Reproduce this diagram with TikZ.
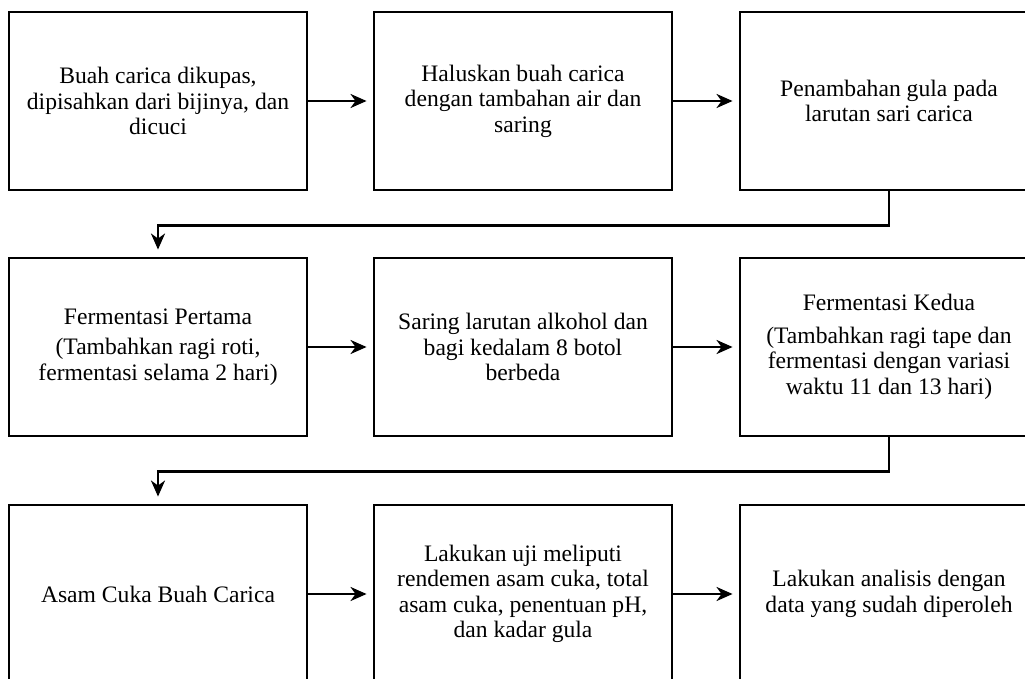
\documentclass[tikz,border=0pt]{standalone}
\usepackage{fontspec}
\setmainfont{Liberation Serif}
\usetikzlibrary{arrows.meta}
\begin{document}
\begin{tikzpicture}[x=1pt,y=-1pt,
  stepbox/.style={draw=black,line width=2.9pt,minimum width=298pt,minimum height=178pt,
    align=center,inner sep=0pt,font=\fontsize{23.6}{25.5}\selectfont},
  arr/.style={draw=black,line width=2.7pt,-{Stealth[length=16pt,width=14pt,inset=5pt]}}]
\clip (0,0) rectangle (1025,679);
\useasboundingbox (0,0) rectangle (1025,679);
\fill[white] (0,0) rectangle (1025,679);
% row 1
\node[stepbox] (a1) at (158,101) {Buah carica dikupas,\\dipisahkan dari bijinya, dan\\dicuci};
\node[stepbox] (a2) at (523,101) {Haluskan buah carica\\dengan tambahan air dan\\saring};
\node[stepbox] (a3) at (889,101) {Penambahan gula pada\\larutan sari carica};
% row 2
\node[stepbox] (b1) at (158,347) {Fermentasi Pertama\\[5pt](Tambahkan ragi roti,\\fermentasi selama 2 hari)};
\node[stepbox] (b2) at (523,347) {Saring larutan alkohol dan\\bagi kedalam 8 botol\\berbeda};
\node[stepbox] (b3) at (889,347) {Fermentasi Kedua\\[7pt](Tambahkan ragi tape dan\\fermentasi dengan variasi\\waktu 11 dan 13 hari)};
% row 3
\node[stepbox] (c1) at (158,594) {Asam Cuka Buah Carica};
\node[stepbox] (c2) at (523,594) {Lakukan uji meliputi\\rendemen asam cuka, total\\asam cuka, penentuan pH,\\dan kadar gula};
\node[stepbox] (c3) at (889,594) {Lakukan analisis dengan\\data yang sudah diperoleh};
% connectors
\draw[arr,shorten >=6pt] (a1.east) -- (a2.west);
\draw[arr,shorten >=6pt] (a2.east) -- (a3.west);
\draw[arr,shorten >=6pt] (b1.east) -- (b2.west);
\draw[arr,shorten >=6pt] (b2.east) -- (b3.west);
\draw[arr,shorten >=6pt] (c1.east) -- (c2.west);
\draw[arr,shorten >=6pt] (c2.east) -- (c3.west);
\draw[arr,shorten >=7pt] (a3.south) -- ++(0,34) -| (b1.north);
\draw[arr,shorten >=7pt] (b3.south) -- ++(0,34) -| (c1.north);
\end{tikzpicture}
\end{document}
